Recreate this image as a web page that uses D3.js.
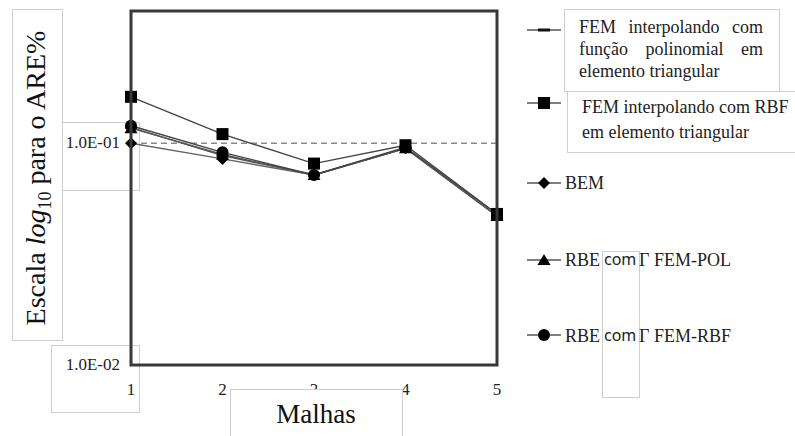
<!DOCTYPE html>
<html><head><meta charset="utf-8">
<script src="https://cdn.jsdelivr.net/npm/d3@7"></script>
<style>
body{margin:0;background:#fff}svg{display:block}
.serif{font-family:"Liberation Serif","DejaVu Serif",serif}
.sans{font-family:"Noto Sans","Open Sans",sans-serif}
</style>
</head><body>
<script>
const categories = [1, 2, 3, 4, 5];
const tickLabelsX = ["1", "2", "3", "4", "5"];
const tickValuesY = [0.01, 0.1];
const tickLabelsY = ["1.0E-02", "1.0E-01"];
const seriesNames = ["FEM-POL", "FEM-RBF", "BEM", "RBE-POL", "RBE-RBF"];
const femPol   = [0.118, 0.088, 0.072, 0.095, 0.047];
const femRbf   = [0.162, 0.110, 0.081, 0.098, 0.048];
const bem      = [0.100, 0.085, 0.072, 0.095, 0.047];
const rbePol   = [0.117, 0.089, 0.072, 0.095, 0.047];
const rbeRbf   = [0.120, 0.091, 0.072, 0.096, 0.048];
const markers  = ["dash", "square", "diamond", "triangle", "circle"];
const yDomain  = [0.01, 0.395];

const W = 795, H = 436;
const svg = d3.select("body").append("svg").attr("width", W).attr("height", H);

const x = d3.scaleLinear().domain([1, 5]).range([131, 497]);
const y = d3.scaleLog().domain(yDomain).range([365, 11]);

function box(x0, y0, x1, y1, fill) {
  svg.append("rect").attr("x", x0 + 0.5).attr("y", y0 + 0.5).attr("width", x1 - x0).attr("height", y1 - y0)
    .attr("fill", fill || "none").attr("stroke", "#cfcfcf").attr("stroke-width", 1);
}
box(12, 9, 62, 340);
box(62, 122, 139, 190);
box(51, 345, 139, 412);

// gridline at 0.1
svg.append("line").attr("x1", x(1)).attr("x2", x(5)).attr("y1", y(0.1)).attr("y2", y(0.1))
  .attr("stroke", "#8a8a8a").attr("stroke-width", 1.6).attr("stroke-dasharray", "6,4");

const allSeries = [femPol, femRbf, bem, rbePol, rbeRbf];
const line = d3.line().x((d, i) => x(categories[i])).y(d => y(d));
const lineColors = ["#555", "#444", "#666", "#555", "#444"];
allSeries.forEach((s, k) => {
  svg.append("path").attr("d", line(s)).attr("fill", "none")
    .attr("stroke", lineColors[k]).attr("stroke-width", 1.4);
});

function drawMarker(g, type, cx, cy) {
  if (type === "dash") {
    g.append("rect").attr("x", cx - 6).attr("y", cy - 1.5).attr("width", 12).attr("height", 3).attr("fill", "#111");
  } else if (type === "square") {
    g.append("rect").attr("x", cx - 6).attr("y", cy - 6).attr("width", 12).attr("height", 12).attr("fill", "#000");
  } else if (type === "diamond") {
    g.append("path").attr("d", `M${cx},${cy - 6}L${cx + 6},${cy}L${cx},${cy + 6}L${cx - 6},${cy}Z`).attr("fill", "#000");
  } else if (type === "triangle") {
    g.append("path").attr("d", `M${cx},${cy - 6}L${cx + 6.5},${cy + 5}L${cx - 6.5},${cy + 5}Z`).attr("fill", "#000");
  } else if (type === "circle") {
    g.append("circle").attr("cx", cx).attr("cy", cy).attr("r", 6).attr("fill", "#000");
  }
}
const mg = svg.append("g");
[0, 3, 2, 4, 1].forEach(k => {
  allSeries[k].forEach((v, i) => drawMarker(mg, markers[k], x(categories[i]), y(v)));
});

// frame
svg.append("rect").attr("x", x(1)).attr("y", y(yDomain[1])).attr("width", x(5) - x(1)).attr("height", y(yDomain[0]) - y(yDomain[1]))
  .attr("fill", "none").attr("stroke", "#383838").attr("stroke-width", 3);

tickValuesY.forEach((v, i) => {
  svg.append("text").attr("class", "serif").attr("x", 120).attr("y", y(v) + 5).attr("text-anchor", "end")
    .attr("font-size", 17).attr("fill", "#222").text(tickLabelsY[i]);
});
categories.forEach((c, i) => {
  svg.append("text").attr("class", "serif").attr("x", x(c)).attr("y", 395).attr("text-anchor", "middle")
    .attr("font-size", 17).attr("fill", "#222").text(tickLabelsX[i]);
});

const yt = svg.append("text").attr("class", "serif").attr("transform", "translate(45,178) rotate(-90)").attr("text-anchor", "middle")
  .attr("font-size", 28).attr("fill", "#111");
yt.append("tspan").text("Escala ");
yt.append("tspan").attr("font-style", "italic").text("log");
yt.append("tspan").attr("font-size", 18).attr("dy", 6).text("10");
yt.append("tspan").attr("dy", -6).text(" para o ARE%");

box(230, 389, 402, 440, "#fff");
svg.append("text").attr("class", "serif").attr("x", 316).attr("y", 423).attr("text-anchor", "middle")
  .attr("font-size", 27).attr("fill", "#111").text("Malhas");

const legY = [30, 103, 183, 260, 335];
legY.forEach((ly, k) => {
  svg.append("line").attr("x1", 527).attr("x2", 561).attr("y1", ly).attr("y2", ly).attr("stroke", "#555").attr("stroke-width", 1.4);
  drawMarker(svg, markers[k], 544, ly);
});
box(564, 9, 779, 91, "#fff");
box(567, 91, 800, 152, "#fff");

function justified(txt, x0, x1, yb, justify) {
  const t = svg.append("text").attr("class", "serif").attr("x", x0).attr("y", yb).attr("font-size", 18).attr("fill", "#222").text(txt);
  if (justify) {
    const len = t.node().getComputedTextLength();
    const gaps = txt.split(" ").length - 1;
    t.attr("word-spacing", (x1 - x0 - len) / gaps);
  }
}
justified("FEM interpolando com", 579, 763, 33, true);
justified("função polinomial em", 579, 763, 55, true);
justified("elemento triangular", 579, 763, 77, false);
justified("FEM interpolando com RBF", 582, 787, 113, false);
justified("em elemento triangular", 582, 787, 138, false);

function lt(txt, xx, yy, cls, fs) {
  svg.append("text").attr("class", cls).attr("x", xx).attr("y", yy).attr("font-size", fs).attr("fill", "#222").text(txt);
}
lt("BEM", 565, 189, "serif", 18);
lt("RBE", 565, 266, "serif", 18);
lt("RBE", 565, 342, "serif", 18);
box(602, 251, 639, 397);
lt("com", 604, 265, "sans", 16);
lt("com", 604, 341, "sans", 16);
lt("Γ FEM-POL", 639, 266, "serif", 18);
lt("Γ FEM-RBF", 639, 342, "serif", 18);
</script>
</body></html>
